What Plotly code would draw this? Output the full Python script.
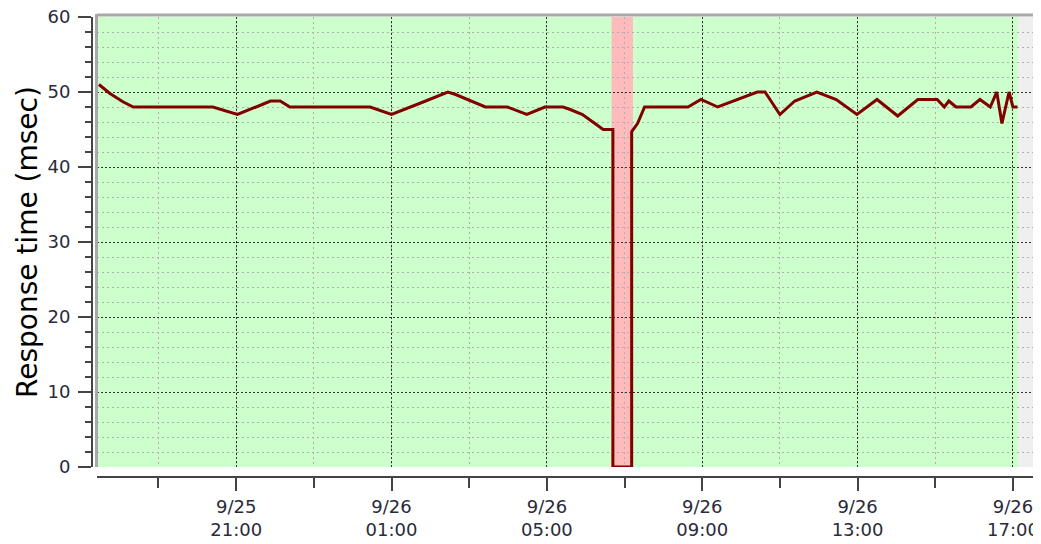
import plotly.graph_objects as go

# ---- data ----
times = [
    "2013-09-25 17:28", "2013-09-25 17:45", "2013-09-25 18:05", "2013-09-25 18:21",
    "2013-09-25 20:24", "2013-09-25 21:02", "2013-09-25 21:42", "2013-09-25 21:53",
    "2013-09-25 22:08", "2013-09-25 22:23", "2013-09-26 00:27", "2013-09-26 01:00",
    "2013-09-26 01:44", "2013-09-26 02:27", "2013-09-26 02:38", "2013-09-26 03:17",
    "2013-09-26 03:25", "2013-09-26 03:59", "2013-09-26 04:29", "2013-09-26 04:57",
    "2013-09-26 05:25", "2013-09-26 05:35", "2013-09-26 05:55", "2013-09-26 06:11",
    "2013-09-26 06:27", "2013-09-26 06:42", "2013-09-26 06:42", "2013-09-26 07:11",
    "2013-09-26 07:11", "2013-09-26 07:20", "2013-09-26 07:31", "2013-09-26 08:38",
    "2013-09-26 08:58", "2013-09-26 09:24", "2013-09-26 10:25", "2013-09-26 10:37",
    "2013-09-26 11:00", "2013-09-26 11:23", "2013-09-26 11:57", "2013-09-26 12:27",
    "2013-09-26 12:59", "2013-09-26 13:30", "2013-09-26 14:02", "2013-09-26 14:33",
    "2013-09-26 15:03", "2013-09-26 15:14", "2013-09-26 15:21", "2013-09-26 15:32",
    "2013-09-26 15:55", "2013-09-26 16:09", "2013-09-26 16:25", "2013-09-26 16:35",
    "2013-09-26 16:43", "2013-09-26 16:54", "2013-09-26 17:00", "2013-09-26 17:07",
]
response_ms = [
    51, 49.8, 48.7, 48,
    48, 47, 48.4, 48.8,
    48.8, 48, 48, 47,
    48.5, 50, 49.7, 48.3,
    48, 48, 47, 48,
    48, 47.7, 47, 46,
    45, 45, 0, 0,
    44.7, 45.8, 48, 48,
    49, 48, 50, 50,
    47, 48.8, 50, 49,
    47, 49, 46.8, 49,
    49, 48, 48.8, 48,
    48, 49, 48, 50,
    45.8, 50, 48, 48,
]

tick_vals = ["2013-09-25 21:00", "2013-09-26 01:00", "2013-09-26 05:00",
             "2013-09-26 09:00", "2013-09-26 13:00", "2013-09-26 17:00"]
tick_text = ["9/25<br>21:00", "9/26<br>01:00", "9/26<br>05:00",
             "9/26<br>09:00", "9/26<br>13:00", "9/26<br>17:00"]

x_range = ["2013-09-25 17:25", "2013-09-26 17:31"]
monitored_until = "2013-09-26 17:08"
outage_start = "2013-09-26 06:40"
outage_end = "2013-09-26 07:13"
y_title = "Response time (msec)"

font_family = "DejaVu Sans"
label_color = "#2a2a3a"

fig = go.Figure()
fig.add_trace(go.Scatter(
    x=times, y=response_ms, mode="lines",
    line=dict(color="#800000", width=3),
    showlegend=False, hoverinfo="x+y",
))

# page body has an 8px default margin, so the figure is 8px smaller
W, H = 1033, 536
ml, mr, mt, mb = 84, 8, 9, 67
pw = W - ml - mr
ph = H - mt - mb
xd0 = 5 / pw
yd0 = 10 / ph

shapes = [
    # green monitored background
    dict(type="rect", xref="x", yref="y", x0=x_range[0], x1=monitored_until,
         y0=0, y1=60, fillcolor="#ccffcc", line=dict(width=0), layer="below"),
    # red outage band
    dict(type="rect", xref="x", yref="y", x0=outage_start, x1=outage_end,
         y0=0, y1=60, fillcolor="#ffbbbb", line=dict(width=0), layer="below"),
    # top border
    dict(type="line", xref="paper", yref="paper", x0=xd0, x1=1,
         y0=1 + 2 / ph, y1=1 + 2 / ph, line=dict(color="#a8a8a8", width=3)),
    # left border
    dict(type="line", xref="paper", yref="paper", x0=xd0 - 0.5 / pw, x1=xd0 - 0.5 / pw,
         y0=yd0, y1=1 + 3 / ph, line=dict(color="#a8a8a8", width=3)),
]

fig.update_layout(
    width=W, height=H,
    margin=dict(l=ml, r=mr, t=mt, b=mb, autoexpand=False),
    paper_bgcolor="white",
    plot_bgcolor="#efefef",
    font=dict(family=font_family, size=18, color=label_color),
    shapes=shapes,
    xaxis=dict(
        type="date", range=x_range, domain=[xd0, 1],
        anchor="free", position=0, automargin=False,
        tickmode="array", tickvals=tick_vals, ticktext=tick_text,
        ticks="outside", ticklen=13, tickwidth=2, tickcolor="#444",
        showline=True, linecolor="#444", linewidth=2,
        showgrid=True, gridcolor="#333", griddash="2px,2px", gridwidth=1,
        zeroline=False,
        minor=dict(dtick=2 * 3600 * 1000, tick0="2013-09-25 19:00",
                   ticks="outside", ticklen=10, tickwidth=2, tickcolor="#444",
                   showgrid=True, gridcolor="#b0b0b0", griddash="2px,3px", gridwidth=1),
        tickfont=dict(size=18, color=label_color),
        ticklabeloverflow="allow",
        fixedrange=True,
    ),
    yaxis=dict(
        range=[0, 60], domain=[yd0, 1],
        anchor="free", position=0, automargin=False,
        dtick=10, tick0=0,
        ticks="outside", ticklen=13, tickwidth=2, tickcolor="#444",
        showline=True, linecolor="#444", linewidth=2,
        showgrid=True, gridcolor="#333", griddash="2px,2px", gridwidth=1,
        zeroline=False,
        minor=dict(dtick=2, tick0=0, ticks="outside", ticklen=6, tickwidth=2,
                   tickcolor="#444", showgrid=True, gridcolor="#b0b0b0",
                   griddash="2px,3px", gridwidth=1),
        tickfont=dict(size=18, color=label_color),
        ticklabelstandoff=4,
        ticklabeloverflow="allow",
        fixedrange=True,
    ),
    annotations=[dict(
        text=y_title, textangle=-90, showarrow=False,
        xref="paper", yref="paper", x=(20 - ml) / pw, y=(yd0 + 1) / 2,
        xanchor="center", yanchor="middle",
        font=dict(size=28, color="black", family=font_family),
    )],
)

fig.write_html("out.html")
